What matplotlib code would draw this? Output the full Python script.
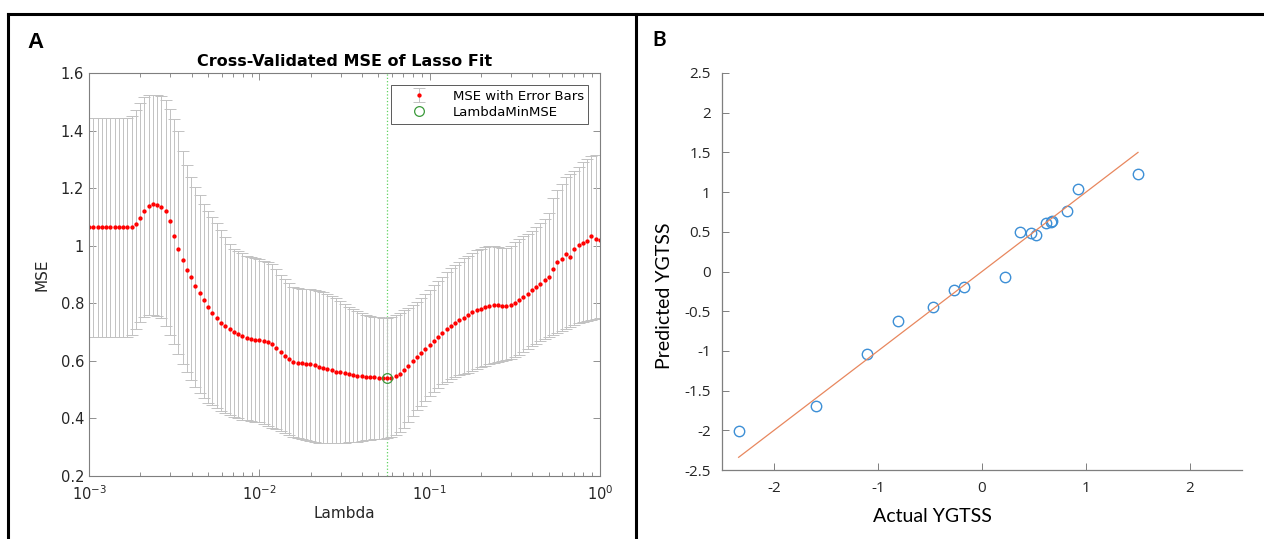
import numpy as np
import matplotlib.pyplot as plt
from matplotlib.lines import Line2D
from matplotlib.ticker import FuncFormatter, MultipleLocator, LogLocator

# ---- Panel A: cross-validated MSE along the lasso path ----
mse = [1.064] * 10 + [
    1.066, 1.075, 1.095, 1.120, 1.137, 1.145, 1.143, 1.135, 1.120, 1.085,
    1.035, 0.990, 0.950, 0.915, 0.890, 0.860, 0.835, 0.810, 0.787, 0.765,
    0.748, 0.733, 0.720, 0.710, 0.700, 0.692, 0.686, 0.680, 0.676, 0.673,
    0.671, 0.668, 0.664, 0.657, 0.646, 0.632, 0.618, 0.606, 0.597, 0.593,
    0.591, 0.590, 0.588, 0.584, 0.580, 0.576, 0.572, 0.567, 0.563, 0.560,
    0.557, 0.555, 0.552, 0.549, 0.546, 0.545, 0.544, 0.543, 0.542, 0.541,
    0.540, 0.542, 0.548, 0.556, 0.568, 0.583, 0.600, 0.615, 0.628, 0.641,
    0.655, 0.668, 0.682, 0.697, 0.711, 0.722, 0.732, 0.742, 0.750, 0.760,
    0.768, 0.775, 0.780, 0.786, 0.791, 0.793, 0.794, 0.790, 0.789, 0.795,
    0.801, 0.810, 0.822, 0.833, 0.845, 0.856, 0.867, 0.880, 0.893, 0.918,
    0.945, 0.955, 0.970, 0.962, 0.990, 1.004, 1.008, 1.018, 1.033, 1.024,
    1.021]
mse_hi = [1.442] * 10 + [
    1.450, 1.470, 1.495, 1.515, 1.522, 1.524, 1.523, 1.520, 1.505, 1.475,
    1.440, 1.400, 1.330, 1.280, 1.240, 1.205, 1.175, 1.145, 1.120, 1.100,
    1.078, 1.055, 1.030, 1.005, 0.990, 0.982, 0.975, 0.965, 0.960, 0.957,
    0.953, 0.948, 0.943, 0.935, 0.920, 0.900, 0.885, 0.870, 0.858, 0.852,
    0.851, 0.850, 0.848, 0.845, 0.842, 0.838, 0.832, 0.825, 0.817, 0.807,
    0.797, 0.788, 0.779, 0.772, 0.766, 0.761, 0.757, 0.754, 0.751, 0.749,
    0.748, 0.752, 0.758, 0.766, 0.775, 0.785, 0.795, 0.806, 0.818, 0.832,
    0.847, 0.862, 0.878, 0.893, 0.908, 0.922, 0.933, 0.945, 0.956, 0.965,
    0.974, 0.985, 0.990, 0.995, 0.998, 0.999, 0.996, 0.993, 0.991, 1.000,
    1.012, 1.022, 1.033, 1.042, 1.050, 1.065, 1.078, 1.094, 1.115, 1.165,
    1.195, 1.215, 1.237, 1.250, 1.260, 1.275, 1.292, 1.300, 1.312, 1.315,
    1.315]
mse_lo = [0.684] * 10 + [
    0.690, 0.710, 0.735, 0.752, 0.758, 0.760, 0.755, 0.748, 0.720, 0.690,
    0.660, 0.625, 0.590, 0.560, 0.535, 0.510, 0.490, 0.470, 0.455, 0.445,
    0.435, 0.427, 0.420, 0.413, 0.406, 0.400, 0.396, 0.393, 0.391, 0.389,
    0.387, 0.382, 0.375, 0.368, 0.362, 0.355, 0.348, 0.342, 0.337, 0.333,
    0.329, 0.325, 0.321, 0.318, 0.316, 0.315, 0.313, 0.313, 0.314, 0.315,
    0.316, 0.317, 0.318, 0.319, 0.321, 0.324, 0.326, 0.328, 0.329, 0.330,
    0.331, 0.334, 0.341, 0.352, 0.368, 0.388, 0.410, 0.428, 0.443, 0.460,
    0.478, 0.493, 0.506, 0.518, 0.528, 0.537, 0.544, 0.550, 0.554, 0.559,
    0.565, 0.571, 0.577, 0.583, 0.588, 0.592, 0.596, 0.599, 0.603, 0.608,
    0.615, 0.622, 0.630, 0.640, 0.651, 0.660, 0.668, 0.675, 0.683, 0.690,
    0.697, 0.704, 0.710, 0.717, 0.724, 0.730, 0.735, 0.738, 0.742, 0.746,
    0.748]
# lasso lambda grid (geometric, 1e-3 .. 1)
lam = np.logspace(-3, 0, len(mse))

# ---- Panel B: predicted vs actual YGTSS ----
actual = [-2.34, -1.60, -1.11, -0.81, -0.47, -0.27, -0.17, 0.22, 0.37,
          0.47, 0.52, 0.62, 0.67, 0.66, 0.82, 0.92, 1.50]
predicted = [-2.01, -1.69, -1.04, -0.62, -0.45, -0.23, -0.20, -0.07, 0.50,
             0.49, 0.46, 0.61, 0.63, 0.62, 0.76, 1.04, 1.23]

W, H = 1264, 539
fig = plt.figure(figsize=(W / 100, H / 100), dpi=100)

grey_ax = '#7f7f7f'
txt = '#262626'

# panel frame lines
fig.add_artist(Line2D([8 / W, 1], [1 - 14 / H] * 2, transform=fig.transFigure,
                      color='k', lw=2.2))
for xb in (8, 636):
    fig.add_artist(Line2D([xb / W] * 2, [0, 1 - 14 / H], transform=fig.transFigure,
                          color='k', lw=2.2))

fig.text(27 / W, 1 - 42 / H, 'A', fontsize=16, fontweight='bold',
         family='Liberation Sans', va='center')
fig.text(652 / W, 1 - 40 / H, 'B', fontsize=15, fontweight='bold',
         family='Lato', va='center')

# ---------------- A ----------------
axA = fig.add_axes([89 / W, 1 - 476 / H, 511 / W, 403 / H])
mse_a = np.array(mse)
yerr = [mse_a - np.array(mse_lo), np.array(mse_hi) - mse_a]
eb = axA.errorbar(lam, mse_a, yerr=yerr, fmt='o', ms=2.1, color='red', mec='red',
                  ecolor='#c2c2c2', elinewidth=0.7, capsize=4, capthick=0.7,
                  label='MSE with Error Bars', zorder=2)
imin = int(np.argmin(mse_a))
axA.axvline(lam[imin], color='#5fd35f', ls=':', lw=0.9, zorder=1)
mn, = axA.plot(lam[imin], mse_a[imin], 'o', mfc='none', mec='#3a9a3a', ms=7,
               mew=0.9, label='LambdaMinMSE', zorder=3)

axA.set_xscale('log')
axA.set_xlim(1e-3, 1)
axA.set_ylim(0.2, 1.6)
axA.yaxis.set_major_locator(MultipleLocator(0.2))
axA.yaxis.set_major_formatter(FuncFormatter(lambda v, p: f'{v:g}'))
axA.xaxis.set_major_locator(LogLocator(10))
axA.xaxis.set_minor_locator(LogLocator(10, subs=np.arange(2, 10)))
axA.tick_params(which='both', direction='in', top=True, right=True,
                color=grey_ax, labelcolor=txt, labelsize=10.5, width=0.6)
axA.tick_params(which='major', length=5)
axA.tick_params(which='minor', length=3)
axA.tick_params(axis='x', pad=6)
for s in axA.spines.values():
    s.set_color(grey_ax)
    s.set_linewidth(0.8)
axA.set_title('Cross-Validated MSE of Lasso Fit', fontsize=11.5,
              fontweight='bold', color='k', pad=5)
axA.set_xlabel('Lambda', fontsize=11, color=txt, labelpad=2)
axA.set_ylabel('MSE', fontsize=11, color=txt, labelpad=8)
leg = axA.legend([eb, mn], ['MSE with Error Bars', 'LambdaMinMSE'],
                 loc='upper right', bbox_to_anchor=(0.977, 0.97),
                 borderaxespad=0, fontsize=9.5, fancybox=False,
                 framealpha=1, edgecolor='#404040', handlelength=3.5,
                 borderpad=0.35, labelspacing=0.25)
leg.get_frame().set_linewidth(0.6)

# ---------------- B ----------------
axB = fig.add_axes([722 / W, 1 - 470 / H, 520 / W, 397 / H])
axB.plot(actual, predicted, 'o', mfc='none', mec='#3d8fd6', ms=7.5, mew=1.0)
lo, hi = min(actual), max(actual)
axB.plot([lo, hi], [lo, hi], color='#e8875e', lw=0.9)
axB.set_xlim(-2.5, 2.5)
axB.set_ylim(-2.5, 2.5)
axB.set_xticks([-2, -1, 0, 1, 2])
axB.yaxis.set_major_locator(MultipleLocator(0.5))
fmt = FuncFormatter(lambda v, p: f'{v:g}')
axB.xaxis.set_major_formatter(fmt)
axB.yaxis.set_major_formatter(fmt)
for s in ('top', 'right'):
    axB.spines[s].set_visible(False)
for s in ('left', 'bottom'):
    axB.spines[s].set_color(grey_ax)
    axB.spines[s].set_linewidth(0.9)
axB.tick_params(direction='in', length=5, width=0.7, color=grey_ax,
                labelcolor=txt, labelsize=11, pad=8)
for t in axB.get_xticklabels() + axB.get_yticklabels():
    t.set_family('Open Sans')
axB.set_xlabel('Actual YGTSS', fontsize=14, family='Lato', color='k')
axB.set_ylabel('Predicted YGTSS', fontsize=14, family='Lato', color='k')
axB.xaxis.set_label_coords(0.404, -0.095)
axB.yaxis.set_label_coords(-0.095, 0.44)

fig.savefig('out.png', dpi=100)
